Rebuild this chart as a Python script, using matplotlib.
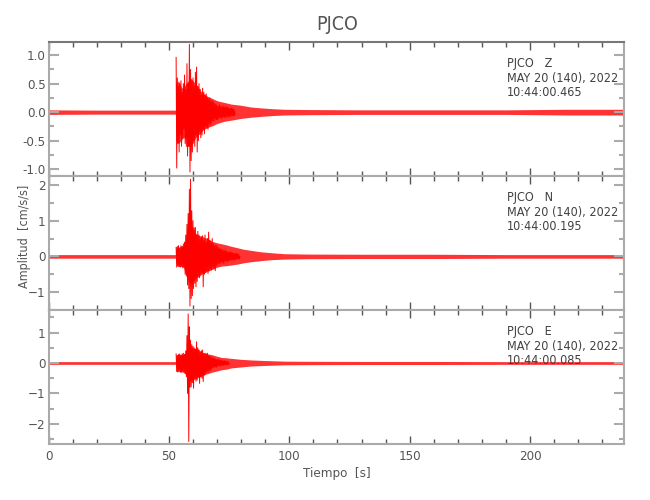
import matplotlib
matplotlib.use("Agg")
import numpy as np
import matplotlib.pyplot as plt
from matplotlib import font_manager
from matplotlib.ticker import MultipleLocator, FormatStrFormatter

# narrow face if one is installed
stretches = {f.stretch for f in font_manager.fontManager.ttflist if f.name == "DejaVu Sans"}
plt.rcParams['font.family'] = ['Liberation Sans Narrow', 'DejaVu Sans']
if "condensed" in stretches or 75 in stretches:
    plt.rcParams['font.stretch'] = 'condensed'

# --- data (time [s], amplitude [cm/s/s]) ---
dt = 0.25  # spacing of the swings read in the strong part
# Z component: envelope of the trace + swings in the strong part
z_env_t = [0, 20, 40, 52.8, 53.0, 54, 55, 56, 57, 58, 59, 60, 61, 62, 63, 64, 66, 68, 70, 73, 76, 80, 84, 88, 93, 98, 108, 130, 160, 190, 215, 239]
z_env_hi = [.04, .035, .035, .035, .5, .55, .45, .4, .5, .55, .6, .55, .5, .45, .38, .33, .28, .24, .2, .17, .14, .12, .09, .075, .06, .05, .045, .04, .04, .04, .05, .05]
z_env_lo = [-.04, -.035, -.035, -.035, -.5, -.55, -.5, -.45, -.45, -.5, -.6, -.55, -.45, -.4, -.38, -.32, -.27, -.24, -.2, -.16, -.14, -.11, -.09, -.075, -.06, -.05, -.045, -.04, -.04, -.04, -.05, -.05]
z_sw_t0 = 53.0
z_sw = [0.96, -0.98, 0.6, -0.55, 0.45, -0.7, 0.5, -0.4,
        0.55, -0.6, 0.35, -0.45, 0.5, -0.3, 0.65, -0.55,
        0.4, -0.6, 0.85, -0.77, 0.5, -0.6, 1.19, -1.05,
        0.75, -0.85, 0.55, -0.7, 0.6, -0.5, 0.45, -0.6,
        0.7, -0.4, 0.79, -0.7, 0.45, -0.5, 0.5, -0.35,
        0.4, -0.45, 0.3, -0.4, 0.42, -0.3, 0.35, -0.38,
        0.3, -0.25, 0.32, -0.28, 0.25, -0.3, 0.22, -0.2,
        0.25, -0.22, 0.2, -0.18, 0.2, -0.15, 0.18, -0.16,
        0.15, -0.12, 0.14, -0.13, 0.12, -0.14, 0.1, -0.11,
        0.13, -0.09, 0.1, -0.12, 0.09, -0.1, 0.11, -0.08,
        0.09, -0.1, 0.08, -0.09, 0.1, -0.07, 0.08, -0.08,
        0.07, -0.08, 0.06, -0.07, 0.07, -0.06, 0.06, -0.07,
        0.05, -0.06, 0.0]

n_env_t = [0, 30, 52.9, 53.1, 54, 55, 56, 57, 58, 59, 60, 61, 62, 64, 66, 68, 70, 72, 74, 76, 78, 81, 84, 88, 93, 98, 108, 130, 160, 190, 215, 239]
n_env_hi = [.05, .05, .05, .24, .26, .28, .28, .5, .7, .85, .8, .65, .6, .55, .5, .42, .38, .35, .32, .28, .25, .2, .17, .13, .1, .075, .065, .06, .06, .05, .05, .05]
n_env_lo = [-.05, -.05, -.05, -.26, -.28, -.28, -.3, -.5, -.7, -.75, -.7, -.6, -.58, -.48, -.42, -.36, -.3, -.27, -.26, -.24, -.22, -.18, -.15, -.12, -.09, -.075, -.065, -.06, -.06, -.05, -.05, -.05]
n_sw_t0 = 53.0
n_sw = [0.25, -0.3, 0.28, -0.25, 0.3, -0.28, 0.22, -0.3,
        0.3, -0.25, 0.28, -0.32, 0.35, -0.3, 0.4, -0.5,
        0.6, -0.55, 0.9, -0.8, 1.2, -0.9, 1.88, -1.39,
        2.16, -1.18, 1.28, -1.1, 1.0, -0.9, 0.8, -0.75,
        0.81, -0.85, 0.6, -0.7, 0.7, -0.55, 0.6, -0.6,
        0.5, -0.5, 0.55, -0.45, 0.58, -0.85, 0.45, -0.5,
        0.6, -0.45, 0.4, -0.4, 0.5, -0.48, 0.68, -0.4,
        0.45, -0.35, 0.4, -0.38, 0.5, -0.3, 0.35, -0.35,
        0.3, -0.4, 0.32, -0.25, 0.3, -0.22, 0.25, -0.2,
        0.22, -0.2, 0.2, -0.18, 0.2, -0.16, 0.18, -0.2,
        0.15, -0.14, 0.17, -0.13, 0.14, -0.15, 0.12, -0.13,
        0.13, -0.11, 0.12, -0.1, 0.11, -0.1, 0.1, -0.09,
        0.09, -0.1, 0.08, -0.08, 0.09, -0.07, 0.07, -0.08,
        0.06, -0.07, 0.0]

e_env_t = [0, 30, 52.9, 53.1, 54, 56, 57.5, 58.5, 60, 61, 62, 63, 64, 66, 68, 70, 72, 74, 76, 80, 84, 90, 98, 108, 130, 160, 190, 215, 239]
e_env_hi = [.045, .045, .045, .26, .28, .28, .4, .55, .5, .48, .45, .4, .35, .3, .27, .22, .18, .17, .15, .12, .1, .08, .06, .055, .05, .05, .045, .045, .045]
e_env_lo = [-.045, -.045, -.045, -.26, -.28, -.3, -.4, -.6, -.55, -.52, -.48, -.45, -.4, -.35, -.3, -.26, -.22, -.2, -.16, -.13, -.1, -.08, -.06, -.055, -.05, -.05, -.045, -.045, -.045]
e_sw_t0 = 53.0
e_sw = [0.3, -0.28, 0.25, -0.3, 0.28, -0.22, 0.3, -0.3,
        0.25, -0.3, 0.3, -0.25, 0.32, -0.3, 0.28, -0.35,
        0.4, -0.45, 0.9, -1.0, 1.61, -2.58, 1.19, -0.8,
        0.75, -0.78, 0.6, -0.65, 0.55, -0.83, 0.5, -0.5,
        0.45, -0.6, 0.7, -0.56, 0.5, -0.45, 0.43, -0.67,
        0.35, -0.45, 0.4, -0.5, 0.43, -0.61, 0.3, -0.4,
        0.32, -0.35, 0.3, -0.28, 0.32, -0.3, 0.25, -0.25,
        0.22, -0.25, 0.2, -0.2, 0.18, -0.16, 0.15, -0.14,
        0.15, -0.13, 0.12, -0.14, 0.11, -0.1, 0.12, -0.09,
        0.1, -0.1, 0.09, -0.08, 0.08, -0.09, 0.07, -0.07,
        0.08, -0.06, 0.06, -0.07, 0.06, -0.05, 0.05, -0.06,
        0.0]

comps = ["Z", "N", "E"]
starts = ["10:44:00.465", "10:44:00.195", "10:44:00.085"]
ylims = [(-1.12, 1.23), (-1.5, 2.25), (-2.66, 1.74)]
ymajor = [0.5, 1, 1]
yminor = [0.25, 0.5, 0.5]
traces = [(z_env_t, z_env_hi, z_env_lo, z_sw_t0, z_sw),
          (n_env_t, n_env_hi, n_env_lo, n_sw_t0, n_sw),
          (e_env_t, e_env_hi, e_env_lo, e_sw_t0, e_sw)]
xmax = 239

fig = plt.figure(figsize=(6.5, 5), dpi=100)
left, right = 48.5 / 650, 624 / 650
top, bottom = 1 - 42 / 500, 1 - 444 / 500
h = (top - bottom) / 3
txt_col = "#555555"
axis_col = "#aaaaaa"

for i in range(3):
    ax = fig.add_axes([left, top - (i + 1) * h, right - left, h])
    et, ehi, elo, t0, sw = traces[i]
    sw_t = t0 + dt * np.arange(len(sw))
    ax.fill_between(et, elo, ehi, color="red", alpha=0.8, lw=0)
    ax.plot(sw_t, sw, color="red", lw=0.7)
    ax.set_xlim(0, xmax)
    ax.set_ylim(*ylims[i])

    for s in ax.spines.values():
        s.set_color(axis_col)
        s.set_linewidth(1.5)
    if i == 0:
        ax.spines["top"].set_color("#777777")

    ax.xaxis.set_major_locator(MultipleLocator(50))
    ax.xaxis.set_minor_locator(MultipleLocator(10))
    ax.yaxis.set_major_locator(MultipleLocator(ymajor[i]))
    ax.yaxis.set_minor_locator(MultipleLocator(yminor[i]))
    if i == 0:
        ax.yaxis.set_major_formatter(FormatStrFormatter("%.1f"))

    ax.tick_params(axis="x", which="both", direction="in", top=True, bottom=True,
                   color="#555555", width=1, labelsize=9.5, labelcolor=txt_col, pad=4)
    ax.tick_params(axis="x", which="major", length=6)
    ax.tick_params(axis="x", which="minor", length=3.5)
    ax.tick_params(axis="y", which="both", direction="in", left=True, right=True,
                   color=axis_col, width=1.5, labelsize=9.5, labelcolor=txt_col, pad=2)
    ax.tick_params(axis="y", which="major", length=7)
    ax.tick_params(axis="y", which="minor", length=3.5)
    if i < 2:
        ax.tick_params(axis="x", labelbottom=False)

    ax.text(0.797, 0.885, "PJCO   " + comps[i] + "\nMAY 20 (140), 2022\n" + starts[i],
            transform=ax.transAxes, ha="left", va="top", fontsize=9,
            color="#404040", linespacing=1.15)

fig.text(337 / 650, 1 - 25 / 500, "PJCO", ha="center", va="center", fontsize=14, color=txt_col)
fig.text(25 / 650, 1 - 236 / 500, "Amplitud  [cm/s/s]", ha="center", va="center", rotation=90,
         fontsize=9, color=txt_col)
fig.text(337 / 650, 1 - 473 / 500, "Tiempo  [s]", ha="center", va="center",
         fontsize=9.5, color=txt_col)

fig.savefig("out.png", dpi=100)
